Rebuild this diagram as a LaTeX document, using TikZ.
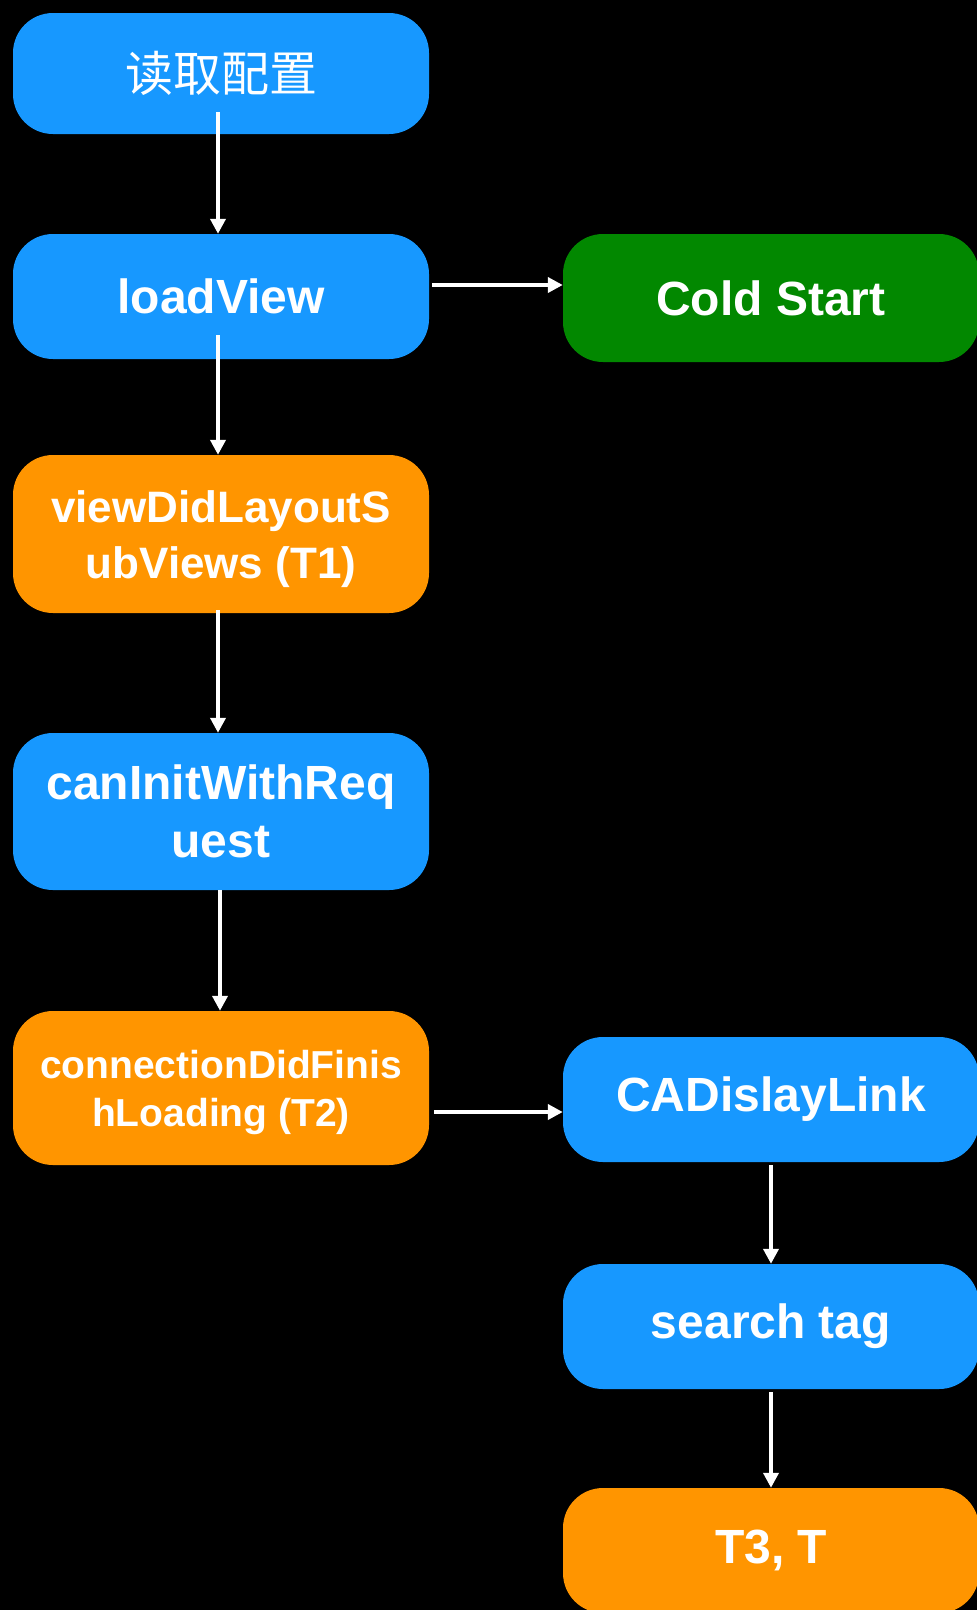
\documentclass[tikz,border=0pt]{standalone}
\usepackage{fontspec}
\setmainfont{Liberation Sans}
\newfontfamily\cjk{Noto Sans CJK SC}
\usetikzlibrary{arrows.meta}
\definecolor{boxblue}{HTML}{1798FF}
\definecolor{boxorange}{HTML}{FF9500}
\definecolor{boxgreen}{HTML}{028800}
\newcommand{\mytopstrut}[1]{\rule{0pt}{#1}}
\tikzset{
  box/.style={rounded corners=40pt, minimum width=416pt, inner sep=0pt, align=center, text=white, font=\bfseries\fontsize{48}{58}\selectfont},
  bluebox/.style={box, fill=boxblue},
  orangebox/.style={box, fill=boxorange},
  greenbox/.style={box, fill=boxgreen},
  flow/.style={draw=white, line width=4.5pt, -{Triangle[width=15pt,length=15pt]}}
}
\begin{document}
\begin{tikzpicture}[x=1pt,y=-1pt]
\clip (0,0) rectangle (977,1610);
\fill[black] (0,0) rectangle (977,1610);
\node[bluebox, minimum height=121pt, font=\cjk\fontsize{48}{58}\selectfont] (b1) at (221,73.5) {读取配置};
\node[bluebox, minimum height=125pt] (b2) at (221,296.5) {loadView};
\node[orangebox, minimum height=158pt, font=\bfseries\fontsize{44}{56}\selectfont] (b3) at (221,534) {\mytopstrut{42pt}viewDidLayoutS\\ubViews (T1)};
\node[bluebox, minimum height=157pt] (b4) at (221,811.5) {canInitWithReq\\uest};
\node[orangebox, minimum height=154pt, font=\bfseries\fontsize{39}{48}\selectfont] (b5) at (221,1088) {\mytopstrut{38pt}connectionDidFinis\\hLoading (T2)};
\node[greenbox, minimum height=128pt] (cs) at (771,298) {Cold Start};
\node[bluebox, minimum height=125pt] (ca) at (771,1099.5) {CADislayLink};
\node[bluebox, minimum height=125pt] (st) at (771,1326.5) {search tag};
\node[orangebox, minimum height=125pt] (t3) at (771,1550.5) {T3, T};
\draw[flow] ([xshift=-3pt,yshift=22pt]b1.south) -- ([xshift=-3pt]b2.north);
\draw[flow] ([xshift=-3pt,yshift=24pt]b2.south) -- ([xshift=-3pt]b3.north);
\draw[flow] ([xshift=-3pt,yshift=3pt]b3.south) -- ([xshift=-3pt]b4.north);
\draw[flow] ([xshift=-1pt]b4.south) -- ([xshift=-1pt]b5.north);
\draw[flow] ([xshift=3pt,yshift=11.5pt]b2.east) -- ([yshift=13pt]cs.west);
\draw[flow] ([xshift=5pt,yshift=-24pt]b5.east) -- ([yshift=-12.5pt]ca.west);
\draw[flow] ([yshift=-3pt]ca.south) -- (st.north);
\draw[flow] ([yshift=-3pt]st.south) -- (t3.north);
\end{tikzpicture}
\end{document}
